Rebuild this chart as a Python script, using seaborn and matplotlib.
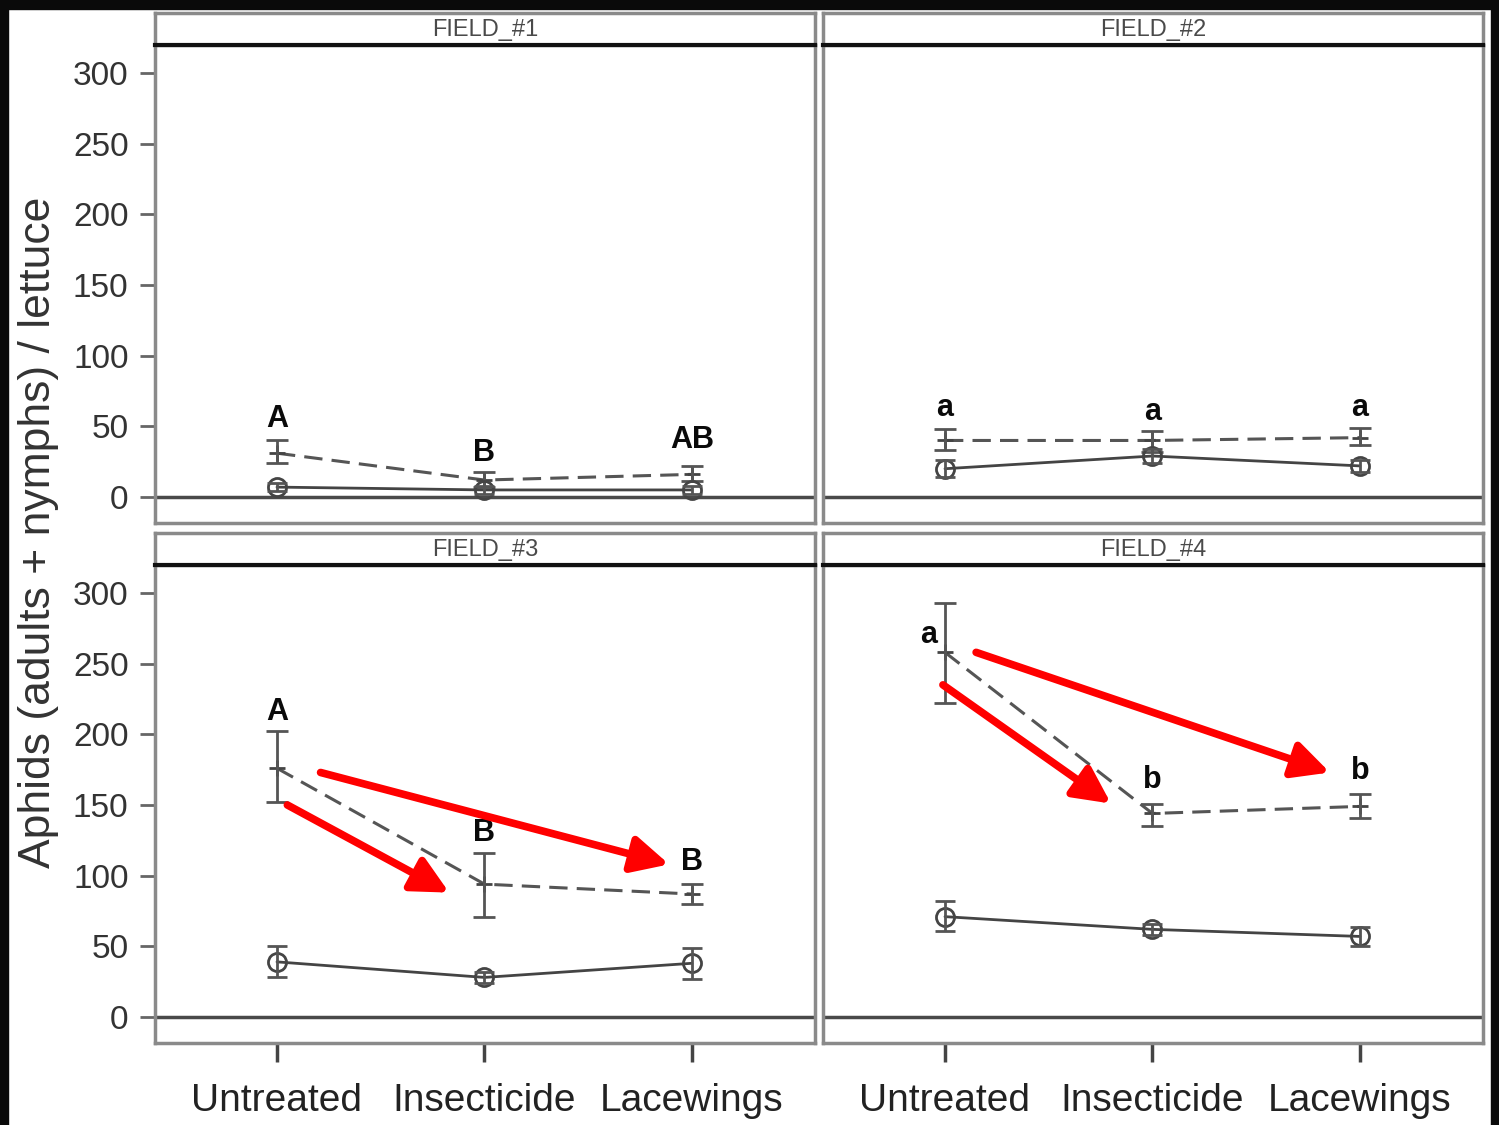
import numpy as np
import pandas as pd
import matplotlib
matplotlib.use("Agg")
import matplotlib.pyplot as plt
import seaborn as sns
from matplotlib.patches import Rectangle

# ---------------- data ----------------
treatments = ["Untreated", "Insecticide", "Lacewings"]
fields = ["FIELD_#1", "FIELD_#2", "FIELD_#3", "FIELD_#4"]

# dashed series: mean and error-bar limits
dashed_mean = [[31, 12, 16], [40, 40, 42], [176, 94, 87], [258, 144, 149]]
dashed_low = [[24, 7, 11], [33, 32, 37], [152, 71, 80], [222, 135, 141]]
dashed_high = [[40, 18, 22], [48, 47, 49], [202, 116, 94], [293, 151, 158]]

# solid series: mean and error-bar limits
solid_mean = [[7, 5, 5], [20, 29, 22], [39, 28, 38], [71, 62, 57]]
solid_low = [[4, 2, 2], [14, 24, 18], [28, 24, 27], [61, 58, 50]]
solid_high = [[10, 8, 8], [26, 34, 26], [50, 32, 49], [82, 66, 64]]

# significance letters
letters = [["A", "B", "AB"], ["a", "a", "a"], ["A", "B", "B"], ["a", "b", "b"]]
letter_y = [[55, 31, 40], [63, 60, 63], [216, 130, 110], [270, 168, 174]]
letter_dx = [[0, 0, 0], [0, 0, 0], [0, 0, 0], [-0.08, 0, 0]]

# red annotation arrows (x0, y0, x1, y1) per field
arrows = [[], [],
          [(0.05, 150, 0.83, 88), (0.21, 173, 1.89, 108)],
          [(-0.01, 235, 0.80, 151), (0.15, 258, 1.855, 173)]]

y_ticks = [0, 50, 100, 150, 200, 250, 300]
y_label = "Aphids (adults + nymphs) / lettuce"

# ---------------- table ----------------
rows = []
for fi, f in enumerate(fields):
    for ti, t in enumerate(treatments):
        rows.append(dict(field=f, treatment=t, pos=ti, series="dashed",
                         mean=dashed_mean[fi][ti], low=dashed_low[fi][ti], high=dashed_high[fi][ti]))
        rows.append(dict(field=f, treatment=t, pos=ti, series="solid",
                         mean=solid_mean[fi][ti], low=solid_low[fi][ti], high=solid_high[fi][ti]))
df = pd.DataFrame(rows)

# ---------------- style ----------------
sns.set_theme(style="white")
plt.rcParams['font.family'] = ['Liberation Sans', 'DejaVu Sans']

W, H = 1499, 1125
fig = plt.figure(figsize=(W / 100, H / 100), dpi=100)
fig.patch.set_facecolor("white")

lefts = [155 / W, 823 / W]
pw = 660 / W
bottoms = [(H - 523) / H, (H - 1043) / H]
ph = 478 / H
strip_bottoms = [(H - 45) / H, (H - 565) / H]
sh = 32 / H

frame_col = "#8a8a8a"

for fi, f in enumerate(fields):
    r, c = divmod(fi, 2)
    ax = fig.add_axes([lefts[c], bottoms[r], pw, ph])
    ax.set_facecolor("white")
    ax.axhline(0, color="#4a4a4a", lw=2.5, zorder=1)

    sub = df[df.field == f]
    d = sub[sub.series == "dashed"]
    s = sub[sub.series == "solid"]

    sns.lineplot(data=d, x="pos", y="mean", ax=ax, color="#555555", lw=2.2,
                 linestyle=(0, (6, 3)), marker="+", markersize=12,
                 markeredgewidth=2, markeredgecolor="#444444",
                 legend=False, errorbar=None, zorder=3)
    ax.errorbar(d["pos"], d["mean"], yerr=[d["mean"] - d["low"], d["high"] - d["mean"]],
                fmt="none", ecolor="#555555", elinewidth=2, capsize=8, capthick=2, zorder=3)

    sns.lineplot(data=s, x="pos", y="mean", ax=ax, color="#444444", lw=2,
                 marker="o", markersize=13, markerfacecolor="none",
                 markeredgewidth=2, markeredgecolor="#444444",
                 legend=False, errorbar=None, zorder=3)
    ax.errorbar(s["pos"], s["mean"], yerr=[s["mean"] - s["low"], s["high"] - s["mean"]],
                fmt="none", ecolor="#555555", elinewidth=2, capsize=7, capthick=2, zorder=3)

    for ti in range(3):
        ax.text(ti + letter_dx[fi][ti], letter_y[fi][ti], letters[fi][ti],
                ha="center", va="center", fontsize=22, fontweight="bold",
                color="#0a0a0a", zorder=5)

    for (x0, y0, x1, y1) in arrows[fi]:
        ax.annotate("", xy=(x1, y1), xytext=(x0, y0),
                    arrowprops=dict(arrowstyle="-|>,head_length=1.0,head_width=0.5",
                                    color="#ff0000", lw=5.5, shrinkA=0, shrinkB=0,
                                    mutation_scale=22),
                    zorder=6)

    ax.set_xlim(-0.588, 2.593)
    ax.set_ylim(-18.4, 319.8)
    ax.set_xlabel("")
    ax.set_ylabel("")

    for sp in ax.spines.values():
        sp.set_color(frame_col)
        sp.set_linewidth(2.5)

    ax.set_xticks(range(3))
    if r == 1:
        ax.set_xticklabels(treatments, fontsize=28, color="#222222")
        ax.tick_params(axis="x", bottom=True, direction="out", length=14,
                       width=2.5, color="#444444", pad=15)
    else:
        ax.tick_params(axis="x", bottom=False, labelbottom=False)

    ax.set_yticks(y_ticks)
    if c == 0:
        ax.set_yticklabels([str(v) for v in y_ticks], fontsize=24, color="#333333")
        ax.tick_params(axis="y", left=True, direction="out", length=11,
                       width=2, color="#666666", pad=8)
    else:
        ax.tick_params(axis="y", left=False, labelleft=False)

    # strip
    sax = fig.add_axes([lefts[c], strip_bottoms[r], pw, sh])
    sax.set_facecolor("white")
    sax.set_xticks([])
    sax.set_yticks([])
    for sp in sax.spines.values():
        sp.set_color(frame_col)
        sp.set_linewidth(2.5)
    sax.spines["bottom"].set_color("#111111")
    sax.spines["bottom"].set_linewidth(3)
    sax.text(0.5, 0.47, f, ha="center", va="center", fontsize=17,
             color="#4a4a4a", transform=sax.transAxes)

fig.text(39 / W, 1 - 532 / H, y_label, rotation=90, ha="center", va="center",
         fontsize=32, color="#333333")

# black image border
border = "#0a0a0a"
fig.add_artist(Rectangle((0, 0), 8 / W, 1, transform=fig.transFigure, color=border, zorder=10))
fig.add_artist(Rectangle((0, 1 - 9 / H), 1, 9 / H, transform=fig.transFigure, color=border, zorder=10))
fig.add_artist(Rectangle((1 - 8 / W, 0), 8 / W, 1, transform=fig.transFigure, color=border, zorder=10))

fig.savefig("out.png", dpi=100, facecolor=fig.get_facecolor())
